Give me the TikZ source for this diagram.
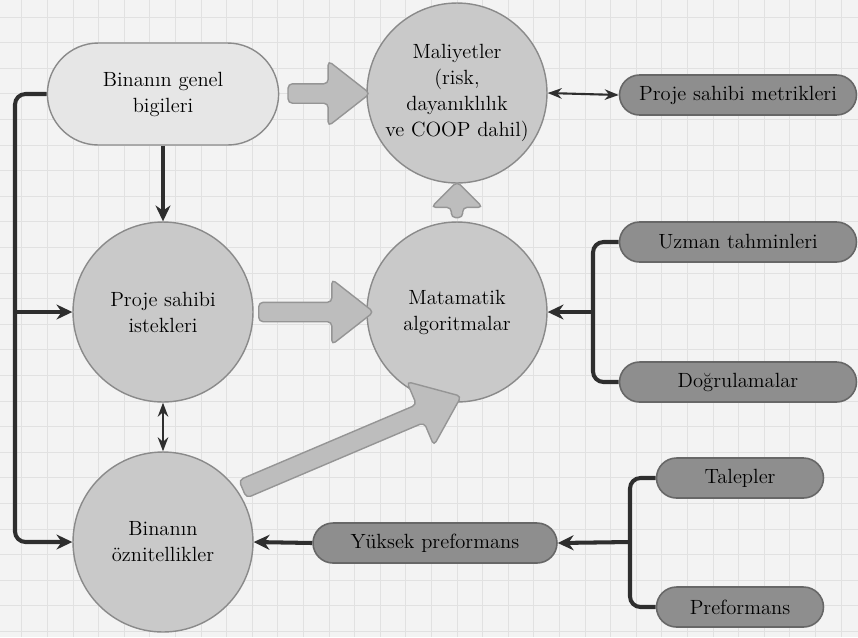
\documentclass[tikz,border=0pt]{standalone}
\usetikzlibrary{arrows.meta,calc,shapes.misc,shapes.arrows}

\definecolor{bgcol}{HTML}{F3F3F3}
\definecolor{gridcol}{HTML}{E1E1E1}
\definecolor{circfill}{HTML}{C9C9C9}
\definecolor{circline}{HTML}{8A8A8A}
\definecolor{topfill}{HTML}{E6E6E6}
\definecolor{darkfill}{HTML}{8E8E8E}
\definecolor{darkline}{HTML}{676767}
\definecolor{arrfill}{HTML}{BDBDBD}
\definecolor{arrline}{HTML}{959595}
\definecolor{linkcol}{HTML}{2E2E2E}

\begin{document}
\begin{tikzpicture}[x=0.02cm,y=-0.02cm,
    font=\fontsize{11.7}{14.8}\selectfont,
    >={Stealth[length=9pt,width=8.5pt]},
    circ/.style={circle,draw=circline,fill=circfill,line width=0.8pt,minimum size=3.6cm,inner sep=0pt,align=center},
    pill/.style={rounded rectangle,draw=darkline,fill=darkfill,line width=0.9pt,minimum height=0.8cm,inner sep=0pt},
    barrow/.style={single arrow,draw=arrline,fill=arrfill,line width=0.8pt,rounded corners=2.5pt,inner sep=0.18cm,
      single arrow head extend=0.46cm,single arrow tip angle=76},
    link/.style={->,line width=2.3pt,draw=linkcol,rounded corners=6pt},
    twoway/.style={{Stealth[length=8pt,width=6pt]}-{Stealth[length=8pt,width=6pt]},line width=1.2pt,draw=linkcol}]

  % background and grid
  \fill[bgcol] (0,0) rectangle (858,637);
  \useasboundingbox (0,0) rectangle (858,637);
  \foreach \k in {0,...,32}
    \draw[gridcol,line width=0.5pt] (21.8+25.6*\k,0) -- (21.8+25.6*\k,637);
  \foreach \k in {0,...,24}
    \draw[gridcol,line width=0.5pt] (0,17+25.6*\k) -- (858,17+25.6*\k);

  % left column
  \node[rounded rectangle,draw=circline,fill=topfill,line width=0.8pt,minimum width=4.86cm,minimum height=2.04cm,
        align=center] (gen) at (163,94) {Binanın genel\\bigileri};
  \node[circ] (req)  at (163,312) {Proje sahibi\\istekleri};
  \node[circ] (attr) at (163,542) {Binanın\\öznitellikler};

  % middle column
  \node[circ] (cost) at (457,93)  {Maliyetler\\(risk,\\dayanıklılık\\ve COOP dahil)};
  \node[circ] (alg)  at (457,312) {Matamatik\\algoritmalar};

  % right side boxes
  \node[pill,minimum width=4.74cm] (metr) at (738,95)  {Proje sahibi metrikleri};
  \node[pill,minimum width=4.74cm] (exp)  at (738,242) {Uzman tahminleri};
  \node[pill,minimum width=4.74cm] (ver)  at (738,382) {Doğrulamalar};
  \node[pill,minimum width=4.88cm] (high) at (435,543) {Yüksek preformans};
  \node[pill,minimum width=3.34cm] (dem)  at (740,478) {Talepler};
  \node[pill,minimum width=3.34cm] (perf) at (740,607) {Preformans};

  \coordinate (lb) at (15,312);
  \coordinate (jr) at (593,312);
  \coordinate (jb) at (630,542);

  % block arrows
  \node[barrow,minimum height=1.64cm] at ($(gen.east)!.5!(cost.west)$) {};
  \node[barrow,minimum height=2.3cm] at ($(req.east)!.5!(alg.west)$) {};
  \node[barrow,minimum height=0.72cm,rotate=90,inner sep=0.1cm,single arrow head extend=0.4cm,
        single arrow tip angle=90] at ($(alg.north)!.5!(cost.south)$) {};
  \node[barrow,minimum height=4.75cm,rotate=23,single arrow head extend=0.5cm] at ($(attr.37)!.5!(alg.south)$) {};

  % connectors
  \draw[link] (gen.south) -- (req.north);
  \draw[link] (gen.west) -| (lb |- attr.west) -- (attr.west);
  \draw[link] (lb) -- (req.west);
  \draw[twoway] (cost.east) -- (metr.west);
  \draw[twoway] (req.south) -- (attr.north);
  \draw[link,-] (exp.west) -| (jr) |- (ver.west);
  \draw[link] (jr) -- (alg.east);
  \draw[link,-] (dem.west) -| (jb) |- (perf.west);
  \draw[link] (jb) -- (high.east);
  \draw[link] (high.west) -- (attr.east);
\end{tikzpicture}
\end{document}
